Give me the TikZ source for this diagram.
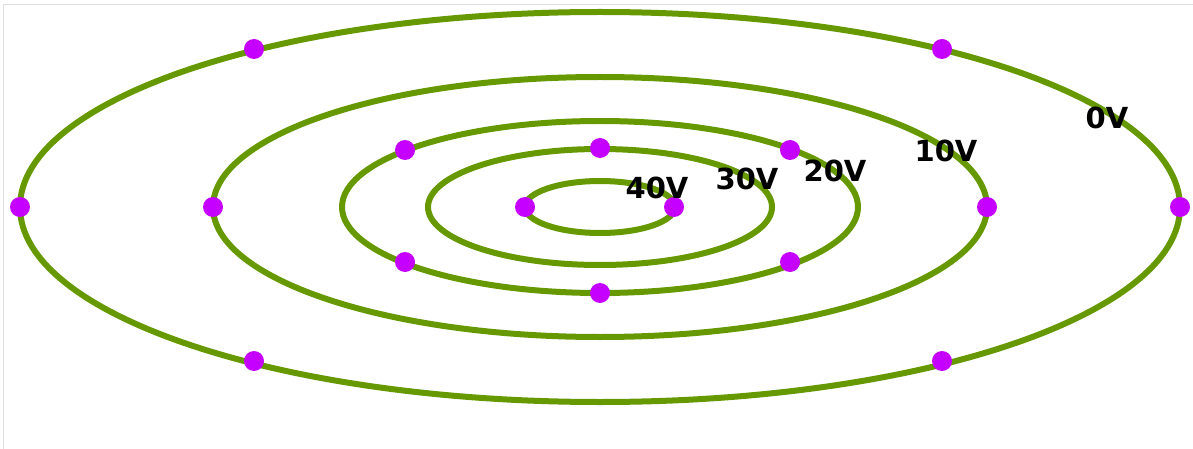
\documentclass[tikz,border=0pt]{standalone}
\usepackage{fontspec}
\setmainfont{DejaVu Sans}
\definecolor{ringgreen}{RGB}{102,153,0}
\definecolor{dotpurple}{RGB}{198,0,255}
\definecolor{framegray}{RGB}{222,222,222}
\begin{document}
\begin{tikzpicture}[x=1pt,y=-1pt,
  ring/.style={draw=ringgreen,line width=6pt},
  dot/.style={circle,fill=dotpurple,inner sep=0pt,minimum size=20pt},
  vlabel/.style={inner sep=0pt,font=\bfseries\fontsize{29}{34}\selectfont,text=black}]
\useasboundingbox (0,0) rectangle (1193,449);
\draw[framegray,line width=1.5pt] (3.5,449) -- (3.5,4.5) -- (1193,4.5);
\coordinate (c) at (600,207);
\draw[ring] (c) ellipse [x radius=580pt, y radius=195pt];
\draw[ring] (c) ellipse [x radius=387pt, y radius=130pt];
\draw[ring] (c) ellipse [x radius=258pt, y radius=86pt];
\draw[ring] (c) ellipse [x radius=172pt, y radius=58pt];
\draw[ring] (c) ellipse [x radius=75pt, y radius=26pt];
% outer ring dots
\node[dot] (a1) at (254,49) {};
\node[dot] (a2) at (942,49) {};
\node[dot] (a3) at (254,361) {};
\node[dot] (a4) at (942,361) {};
\node[dot] (a5) at (20,207) {};
\node[dot] (a6) at (1180,207) {};
% second ring
\node[dot] (b1) at (213,207) {};
\node[dot] (b2) at (987,207) {};
% third ring
\node[dot] (d1) at (405,150) {};
\node[dot] (d2) at (790,150) {};
\node[dot] (d3) at (405,262) {};
\node[dot] (d4) at (790,262) {};
\node[dot] (d5) at (600,293) {};
% fourth ring
\node[dot] (e1) at (600,148) {};
% inner ring
\node[dot] (f1) at (525,207) {};
\node[dot] (f2) at (674,207) {};
% labels
\node[vlabel] (l0) at (1107,118) {0V};
\node[vlabel] (l10) at (946,151) {10V};
\node[vlabel] (l20) at (835,171) {20V};
\node[vlabel] (l30) at (747,179) {30V};
\node[vlabel] (l40) at (657,188) {40V};
\end{tikzpicture}
\end{document}
